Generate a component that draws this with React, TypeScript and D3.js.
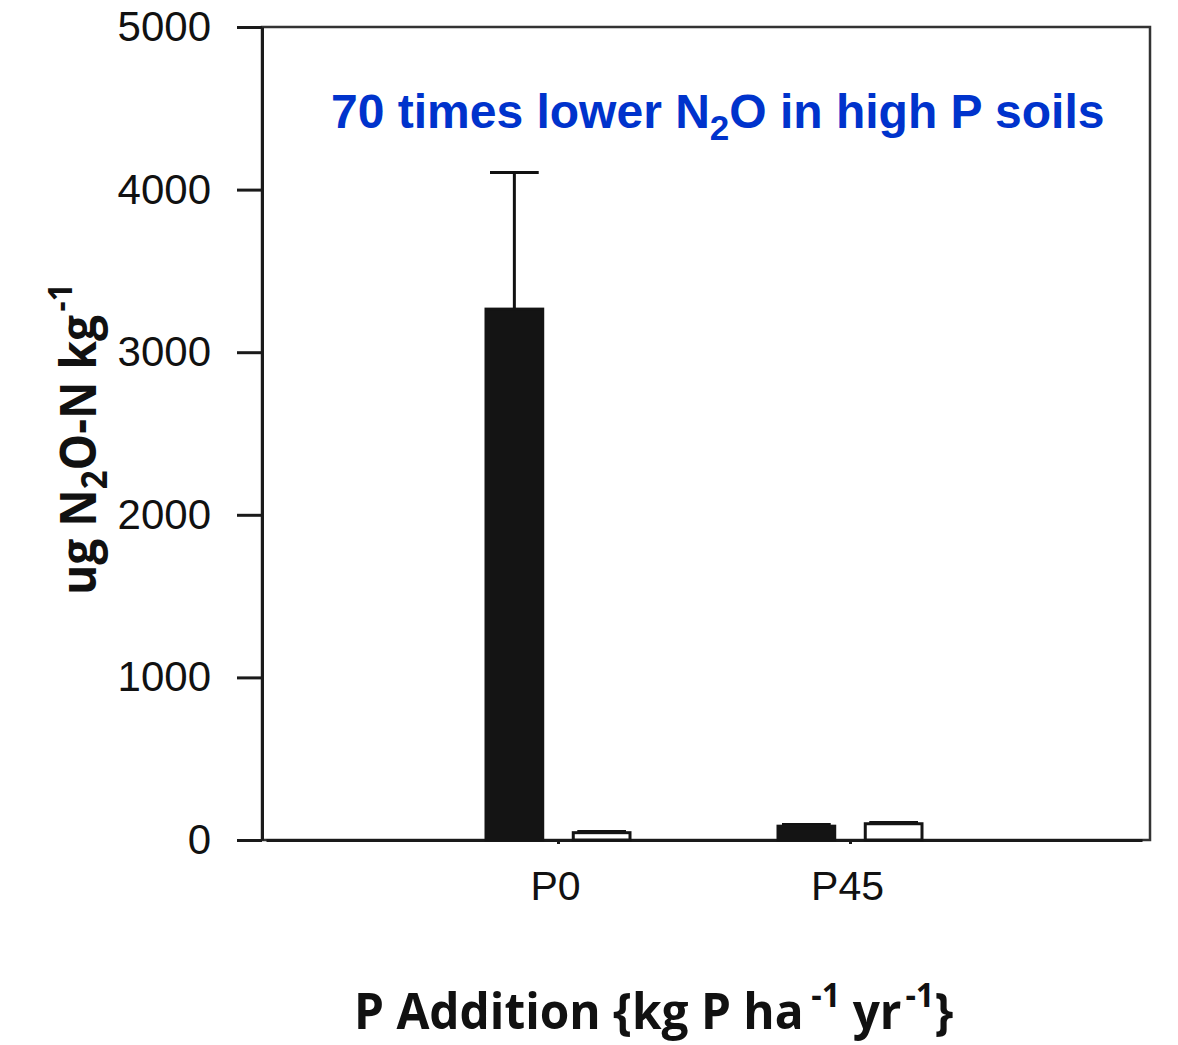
import React, { useEffect, useRef } from "react";
import * as d3 from "d3";

// values (ug N2O-N per kg)
const categories = ["P0", "P45"];
const seriesNames = ["dark", "light"];
const darkValues = [3265, 85];
const darkErrors = [840, 10];
const lightValues = [45, 100];
const lightErrors = [8, 8];
const yTicks = [0, 1000, 2000, 3000, 4000, 5000];

const W = 1178;
const H = 1045;

const App = () => {
  const chartRef = useRef<SVGSVGElement>(null);

  useEffect(() => {
    document.body.style.margin = "0";
    if (!chartRef.current) return;

    const margin = { top: 27, right: 28, bottom: 205, left: 262 };
    const innerW = W - margin.left - margin.right;
    const innerH = H - margin.top - margin.bottom;

    const svg = d3.select(chartRef.current);
    svg.selectAll("*").remove();

    const g = svg
      .append("g")
      .attr("transform", `translate(${margin.left},${margin.top})`);

    const x = d3
      .scalePoint()
      .domain(categories)
      .range([4, 880])
      .padding(1);

    const inner = d3
      .scaleBand()
      .domain(seriesNames)
      .range([-72, 72])
      .paddingInner(0.35);

    const y = d3.scaleLinear().domain([0, 5000]).range([innerH, 0]);

    // frame (top + right)
    g.append("rect")
      .attr("width", innerW)
      .attr("height", innerH)
      .attr("fill", "none")
      .attr("stroke", "#333")
      .attr("stroke-width", 2.5);

    const yAxis = g
      .append("g")
      .call(
        d3
          .axisLeft(y)
          .tickValues(yTicks)
          .tickFormat(d3.format("d"))
          .tickSize(25)
          .tickSizeOuter(0)
          .tickPadding(26)
      );
    yAxis.select(".domain").attr("stroke", "#1a1a1a").attr("stroke-width", 3);
    yAxis.selectAll(".tick line").attr("stroke", "#1a1a1a").attr("stroke-width", 3);
    yAxis
      .selectAll(".tick text")
      .attr("font-family", "'Liberation Sans', Arial, sans-serif")
      .attr("font-size", 42)
      .attr("fill", "#111");

    const xAxis = g
      .append("g")
      .attr("transform", `translate(0,${innerH})`)
      .call(d3.axisBottom(x).tickSize(4).tickSizeOuter(0).tickPadding(27));
    xAxis.select(".domain").attr("stroke", "#1a1a1a").attr("stroke-width", 3);
    xAxis.selectAll(".tick line").attr("stroke", "#1a1a1a").attr("stroke-width", 3);
    xAxis
      .selectAll(".tick text")
      .attr("font-family", "'Liberation Sans', Arial, sans-serif")
      .attr("font-size", 41)
      .attr("dx", -3)
      .attr("fill", "#111");

    const rows = categories.flatMap((c, i) => [
      { cat: c, s: "dark", v: darkValues[i], e: darkErrors[i] },
      { cat: c, s: "light", v: lightValues[i], e: lightErrors[i] },
    ]);

    const bx = (d) => (x(d.cat) as number) + (inner(d.s) as number);

    // error bars
    g.selectAll(".err")
      .data(rows)
      .join("line")
      .attr("class", "err")
      .attr("x1", (d) => bx(d) + inner.bandwidth() / 2)
      .attr("x2", (d) => bx(d) + inner.bandwidth() / 2)
      .attr("y1", (d) => y(d.v))
      .attr("y2", (d) => y(d.v + d.e))
      .attr("stroke", "#111")
      .attr("stroke-width", 3);

    g.selectAll(".cap")
      .data(rows)
      .join("line")
      .attr("class", "cap")
      .attr("x1", (d) => bx(d) + 4)
      .attr("x2", (d) => bx(d) + inner.bandwidth() - 4)
      .attr("y1", (d) => y(d.v + d.e))
      .attr("y2", (d) => y(d.v + d.e))
      .attr("stroke", "#111")
      .attr("stroke-width", 3);

    g.selectAll(".bar")
      .data(rows)
      .join("rect")
      .attr("class", "bar")
      .attr("x", (d) => bx(d))
      .attr("y", (d) => y(d.v))
      .attr("width", inner.bandwidth())
      .attr("height", (d) => innerH - y(d.v))
      .attr("fill", (d) => (d.s === "dark" ? "#141414" : "#ffffff"))
      .attr("stroke", "#141414")
      .attr("stroke-width", 3);

    // annotation
    const title = svg
      .append("text")
      .attr("x", 331)
      .attr("y", 128)
      .attr("font-family", "'Liberation Sans', Arial, sans-serif")
      .attr("font-weight", "bold")
      .attr("font-size", 48)
      .attr("fill", "#0033CC");
    title.append("tspan").text("70 times lower N");
    title.append("tspan").attr("font-size", 35).attr("dy", 12).text("2");
    title.append("tspan").attr("dy", -12).text("O in high P soils");

    // axis titles: condensed bold, squeezed horizontally to the reference width
    const squeeze = (sel, width) => {
      const len = (sel.node() as SVGTextElement).getComputedTextLength();
      return len > 0 ? width / len : 1;
    };

    const xt = svg
      .append("text")
      .attr("font-family", "'Open Sans', 'Noto Sans', sans-serif")
      .attr("font-weight", "bold")
      .attr("font-size", 50)
      .attr("fill", "#111");
    xt.append("tspan").text("P Addition {kg P ha");
    xt.append("tspan").attr("font-size", 34).attr("dx", 8).attr("dy", -22).text("-1");
    xt.append("tspan").attr("dy", 22).text(" yr");
    xt.append("tspan").attr("font-size", 34).attr("dx", 4).attr("dy", -22).text("-1");
    xt.append("tspan").attr("dy", 22).text("}");
    xt.attr("transform", `translate(354,1029) scale(${squeeze(xt, 588)},1)`);

    const yt = svg
      .append("text")
      .attr("font-family", "'Open Sans', 'Noto Sans', sans-serif")
      .attr("font-weight", "bold")
      .attr("font-size", 50)
      .attr("fill", "#111");
    yt.append("tspan").text("ug N");
    yt.append("tspan").attr("font-size", 36).attr("dy", 11).text("2");
    yt.append("tspan").attr("dy", -11).text("O-N kg");
    yt.append("tspan").attr("font-size", 34).attr("dx", 4).attr("dy", -24).text("-1");
    yt.attr("transform", `translate(96,595) rotate(-90) scale(${squeeze(yt, 308)},1)`);
  }, []);

  return <svg ref={chartRef} width={W} height={H} style={{ display: "block", background: "#fff" }}></svg>;
};

export default App;
